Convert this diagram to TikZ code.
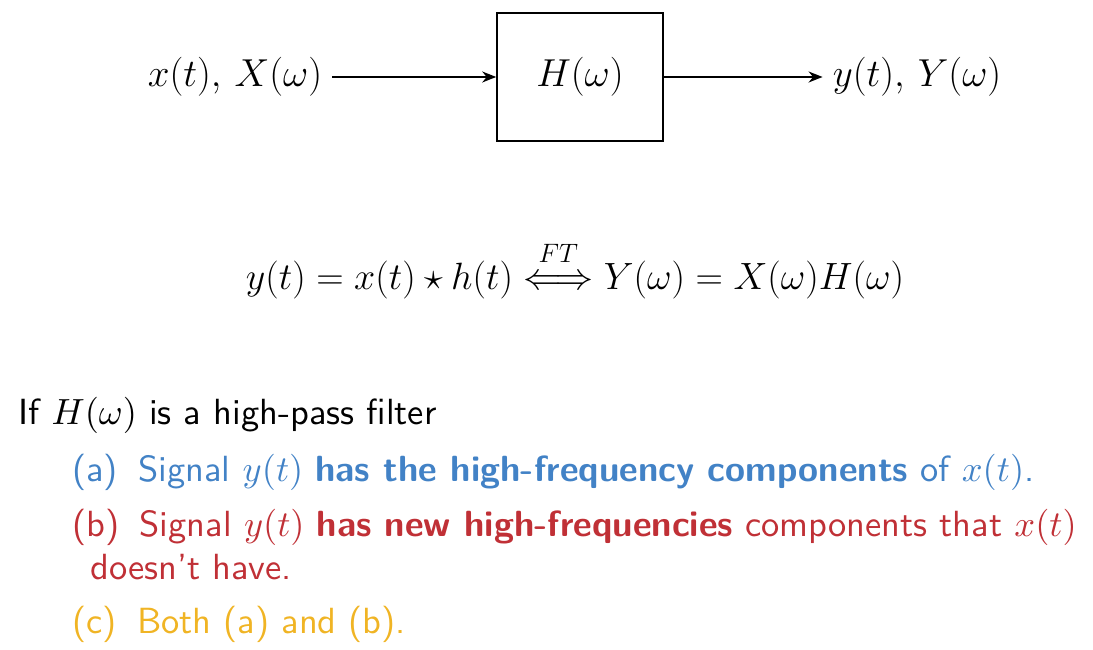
\RequirePackage{fix-cm}
\documentclass[tikz,border=0pt]{standalone}
\usepackage{amsmath,amssymb}
\usetikzlibrary{arrows.meta}
\definecolor{qblue}{RGB}{66,130,198}
\definecolor{qred}{RGB}{192,48,54}
\definecolor{qyellow}{RGB}{240,180,36}
\newcommand\bigsf[1]{\scalebox{3.64}{\fontsize{10}{12}\selectfont\sffamily #1}}
\newcommand\lblgap{\hspace{5.6pt}}
\begin{document}
\begin{tikzpicture}[x=1pt,y=1pt,
  sig/.style={font=\fontsize{39}{45}\selectfont, inner xsep=10pt},
  sysbox/.style={draw, line width=1.6pt, minimum width=166pt, minimum height=128pt, font=\fontsize{39}{45}\selectfont},
  conn/.style={line width=1.8pt, -{Stealth[length=14pt,width=11pt]}},
  txt/.style={anchor=base west, inner sep=0pt}]
\useasboundingbox (0,0) rectangle (1093,650);
\node[sysbox] (H) at (580,573) {$H(\omega)$};
\node[sig] (in) at (235,573) {$x(t),\,X(\omega)$};
\node[sig] (out) at (917,573) {$y(t),\,Y(\omega)$};
\draw[conn] (in.east) -- (H.west);
\draw[conn] (H.east) -- (out.west);
\node[font=\fontsize{38}{44}\selectfont] (eq) at (575,380)
  {$y(t) = x(t) \star h(t) \overset{\raisebox{5pt}{$\scriptstyle FT$}}{\Longleftrightarrow} Y(\omega) = X(\omega)H(\omega)$};
\node[txt] (q) at (18,225) {\bigsf{If $H(\omega)$ is a high-pass filter}};
\node[txt, text=qblue] (a) at (72,168) {\bigsf{(a)\lblgap Signal $y(t)$ \textbf{has the high-frequency components} of $x(t)$.}};
\node[txt, text=qred] (b) at (72,113) {\bigsf{(b)\lblgap Signal $y(t)$ \textbf{has new high-frequencies} components that $x(t)$}};
\node[txt, text=qred] (b2) at (90,70) {\bigsf{doesn't have.}};
\node[txt, text=qyellow] (c) at (72,16) {\bigsf{(c)\lblgap Both (a) and (b).}};
\end{tikzpicture}
\end{document}
